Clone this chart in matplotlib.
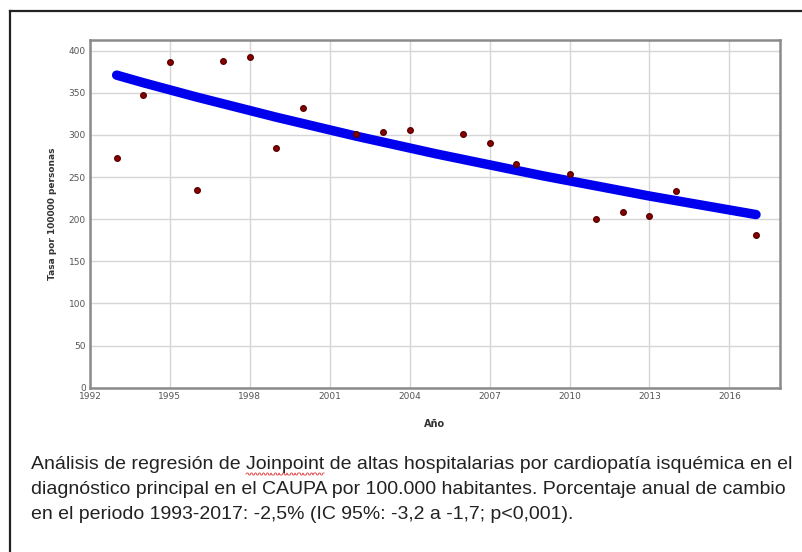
import matplotlib
matplotlib.use('Agg')
import matplotlib.pyplot as plt
from matplotlib.lines import Line2D
import numpy as np

# Datos observados (tasa por 100000 personas)
anios = [1993, 1994, 1995, 1996, 1997, 1998, 1999, 2000, 2002, 2003, 2004,
         2006, 2007, 2008, 2010, 2011, 2012, 2013, 2014, 2017]
tasas = [273, 347, 387, 235, 388, 392, 285, 332, 301, 303, 306,
         301, 290, 266, 254, 200, 208, 204, 234, 181]

# Modelo Joinpoint (ajuste)
anios_modelo = list(range(1993, 2018))
tasas_modelo = [371, 362, 353.5, 345, 337, 329, 321, 313.5, 306, 298.5, 291.5, 284.5, 277.5,
                271, 264.5, 258, 251.5, 245.5, 239.5, 233.5, 227.5, 222, 216.5, 211, 205.5]

xticks = [1992, 1995, 1998, 2001, 2004, 2007, 2010, 2013, 2016]
yticks = [0, 50, 100, 150, 200, 250, 300, 350, 400]

pie = ("Análisis de regresión de Joinpoint de altas hospitalarias por cardiopatía isquémica en el\n"
       "diagnóstico principal en el CAUPA por 100.000 habitantes. Porcentaje anual de cambio\n"
       "en el periodo 1993-2017: -2,5% (IC 95%: -3,2 a -1,7; p<0,001).")

fig = plt.figure(figsize=(8.02, 5.52), dpi=100)
W, H = 802, 552

# Marco de la imagen (solo izquierda y arriba)
fig.add_artist(Line2D([10 / W, 10 / W], [0, 1 - 11 / H], color='#222222', lw=1.6))
fig.add_artist(Line2D([10 / W, 1], [1 - 11 / H, 1 - 11 / H], color='#222222', lw=1.6))

ax = fig.add_axes([90 / W, 1 - 387.7 / H, (780 - 90) / W, (387.7 - 40) / H])

ax.plot(anios_modelo, tasas_modelo, color='#0000ee', lw=6.8, solid_capstyle='round',
        solid_joinstyle='round', zorder=3)
ax.plot(anios, tasas, 'o', color='#8b0000', markeredgecolor='#5a0000', markersize=4, zorder=4)

ax.set_xlim(1992, 2017.9)
ax.set_ylim(0, 412.7)
ax.set_xticks(xticks)
ax.set_yticks(yticks)
ax.grid(True, color='#d6d6d6', lw=1)
ax.set_axisbelow(True)
ax.tick_params(length=0, labelsize=6.5, labelcolor='#555555', pad=3)

for s in ax.spines.values():
    s.set_color('#8a8a8a')
    s.set_linewidth(1.8)

ax.set_xlabel('Año', fontsize=7, fontweight='bold', color='#333333', labelpad=13)
ax.set_ylabel('Tasa por 100000 personas', fontsize=6.5, fontweight='bold', color='#333333', labelpad=8)

txt_kw = dict(fontsize=14, family='Liberation Sans', color='#222222', va='top', ha='left')
fig.text(31 / W, 1 - 456 / H, pie, linespacing=1.62, **txt_kw)

# Subrayado ondulado rojo bajo "Joinpoint" (corrector ortográfico)
r = fig.canvas.get_renderer()
t1 = fig.text(31 / W, 1 - 456 / H, "Análisis de regresión de ", **txt_kw)
t2 = fig.text(31 / W, 1 - 456 / H, "Análisis de regresión de Joinpoint", **txt_kw)
x0 = t1.get_window_extent(r).x1
x1 = t2.get_window_extent(r).x1
t1.remove()
t2.remove()
xs = np.arange(x0, x1, 1.0)
ys = (H - 474) + 1.0 * np.sign(np.sin((xs - x0) * np.pi / 2.0))
fig.add_artist(Line2D(xs / W, ys / H, color='#e03030', lw=0.6))

fig.savefig('out.png', dpi=100)
